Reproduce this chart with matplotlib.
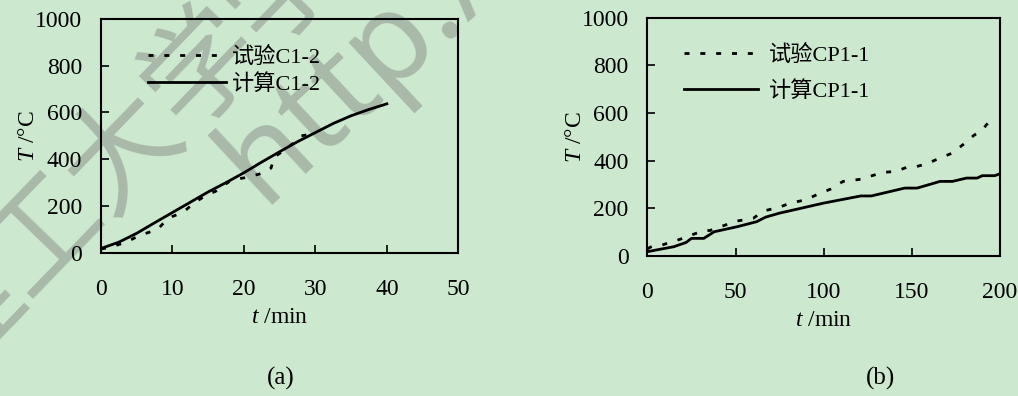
import matplotlib
matplotlib.use('Agg')
import matplotlib.pyplot as plt

plt.rcParams['font.family'] = ['Liberation Serif', 'Noto Sans CJK SC']
plt.rcParams['mathtext.fontset'] = 'custom'
plt.rcParams['mathtext.it'] = 'Liberation Serif:italic'
plt.rcParams['mathtext.rm'] = 'Liberation Serif'
plt.rcParams['axes.unicode_minus'] = False

bg = '#cce8cf'

# (a) column C1-2
t_test_a = [0, 1, 2, 3, 4, 5, 6, 7, 8, 9, 10, 11, 12, 13, 14, 15, 16, 17, 18,
            19, 20, 21, 22, 23, 23.8, 24.2, 25, 26, 27, 28, 29, 30]
T_test_a = [15, 22, 30, 40, 52, 68, 80, 90, 102, 135, 155, 167, 186, 212, 232,
            250, 262, 285, 305, 315, 320, 328, 335, 345, 362, 408, 425, 448,
            470, 500, 505, 510]
t_calc_a = [0, 2.5, 5, 7.5, 10, 12.5, 15, 17.5, 20, 22.5, 25, 27.5, 30, 32.5,
            35, 37.5, 40]
T_calc_a = [18, 45, 83, 128, 172, 216, 260, 300, 342, 388, 432, 475, 514,
            553, 586, 613, 637]

# (b) column CP1-1
t_test_b = [0, 3, 8, 13, 18.5, 25, 32, 35.5, 39, 45, 51, 60, 66, 75, 81, 90,
            96, 104, 111, 121, 126, 134, 141, 147, 152, 158, 166, 173, 179,
            185, 190, 194]
T_test_b = [30, 42, 45, 58, 70, 88, 107, 107, 116, 132, 147, 158, 189, 205,
            222, 236, 257, 281, 313, 322, 334, 351, 355, 372, 374, 386, 411,
            432, 467, 505, 530, 565]
t_calc_b = [0, 7, 15, 22, 25, 32, 38, 51, 62, 67, 75, 100, 121, 127, 146, 153,
            166, 173, 181, 187, 190, 197, 200]
T_calc_b = [18, 28, 39, 57, 74, 74, 102, 123, 144, 163, 180, 222, 252, 252,
            285, 285, 313, 313, 327, 327, 337, 337, 345]

xticks_a = [0, 10, 20, 30, 40, 50]
xticks_b = [0, 50, 100, 150, 200]
yticks = [0, 200, 400, 600, 800, 1000]

fig = plt.figure(figsize=(10.18, 3.96), dpi=100, facecolor=bg)
ax_a = fig.add_axes([0.0992, 0.3619, 0.3510, 0.5901])
ax_b = fig.add_axes([0.6359, 0.3535, 0.3464, 0.6019])

dash = (0, (1.8, 3.9))


def style(ax, xmax, xticks, leg_anchor, labelspacing, hlen, tpad):
    ax.set_facecolor('none')
    ax.set_xlim(0, xmax)
    ax.set_ylim(0, 1000)
    ax.set_xticks(xticks)
    ax.set_yticks(yticks)
    ax.tick_params(direction='in', length=6, width=1.2, labelsize=17)
    ax.tick_params(axis='x', pad=19)
    ax.tick_params(axis='y', pad=13.5)
    for s in ax.spines.values():
        s.set_linewidth(1.5)
    ax.set_xlabel('$t$ /min', fontsize=17, labelpad=5)
    ax.set_ylabel('$T$ /°C', fontsize=17, labelpad=-3)
    ax.legend(loc='upper left', bbox_to_anchor=leg_anchor, frameon=False,
              fontsize=16, handlelength=hlen, handletextpad=tpad,
              labelspacing=labelspacing, borderaxespad=0)


ax_a.plot(t_test_a, T_test_a, color='black', lw=2, linestyle=dash,
          label='试验C1-2')
ax_a.plot(t_calc_a, T_calc_a, color='black', lw=2, label='计算C1-2')
style(ax_a, 50, xticks_a, (0.106, 0.92), 0.3, 3.5, 0.3)

ax_b.plot(t_test_b, T_test_b, color='black', lw=2, linestyle=dash,
          label='试验CP1-1')
ax_b.plot(t_calc_b, T_calc_b, color='black', lw=2, label='计算CP1-1')
style(ax_b, 200, xticks_b, (0.08, 0.925), 0.68, 3.3, 0.5)

fig.text(0.276, 0.045, '(a)', fontsize=18, ha='center', va='center')
fig.text(0.8654, 0.045, '(b)', fontsize=18, ha='center', va='center')

# watermark across the left panel, kept under the axes
fig.text(165 / 1018, 1 - 110 / 396, '理工大学学报', fontsize=83, rotation=46,
         rotation_mode='anchor', ha='center', va='center', color='#a3b1a3',
         alpha=0.85, family='Noto Sans CJK SC', zorder=-1)
fig.text(262 / 1018, 1 - 205 / 396, 'http://', fontsize=90, rotation=43,
         rotation_mode='anchor', ha='left', va='baseline', color='#a3b1a3',
         alpha=0.85, family='Noto Sans', zorder=-1)

fig.savefig('out.png', dpi=100, facecolor=bg)
